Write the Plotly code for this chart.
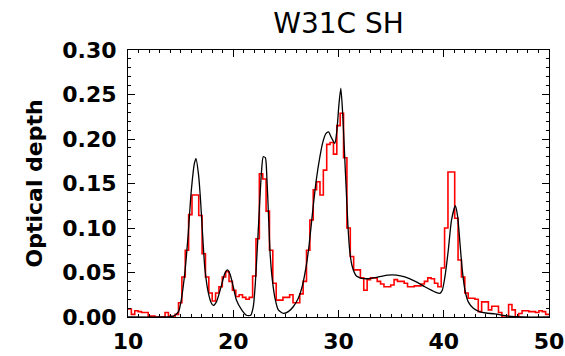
import plotly.graph_objects as go

# ---- data ----
bin_start = 10.0
bin_width = 0.32
observed_tau = [
    0.009, 0.003, 0.007, 0.006, 0.005, 0.005, 0.001, 0.001, 0.000, 0.000,
    0.000, 0.005, 0.001, 0.000, 0.003, 0.016, 0.045, 0.075, 0.115, 0.137,
    0.137, 0.114, 0.071, 0.045, 0.027, 0.018, 0.027, 0.034, 0.045, 0.051,
    0.040, 0.030, 0.023, 0.025, 0.022, 0.020, 0.022, 0.046, 0.088, 0.161,
    0.155, 0.119, 0.075, 0.038, 0.019, 0.019, 0.022, 0.022, 0.025, 0.016,
    0.016, 0.026, 0.040, 0.075, 0.109, 0.143, 0.152, 0.137, 0.165, 0.194,
    0.196, 0.183, 0.215, 0.229, 0.179, 0.100, 0.068, 0.053, 0.053, 0.044,
    0.030, 0.042, 0.044, 0.044, 0.040, 0.037, 0.034, 0.034, 0.036, 0.042,
    0.040, 0.040, 0.038, 0.034, 0.034, 0.035, 0.035, 0.037, 0.040, 0.044,
    0.043, 0.038, 0.034, 0.055, 0.100, 0.163, 0.163, 0.111, 0.064, 0.045,
    0.027, 0.021, 0.021, 0.020, 0.006, 0.017, 0.017, 0.008, 0.012, 0.012,
    0.005, 0.000, 0.000, 0.014, 0.008, 0.000, 0.004, 0.007, 0.007, 0.006,
    0.006, 0.005, 0.007, 0.006, 0.003,
]

model_x = [10.0, 13.5, 14.3, 14.8, 15.1, 15.4, 15.7, 16.0, 16.3, 16.46,
           16.7, 16.9, 17.1, 17.3, 17.6, 17.9, 18.1, 18.4, 18.8, 19.2,
           19.45, 19.7, 20.0, 20.3, 20.8, 21.25, 21.65, 21.9, 22.1, 22.36,
           22.67, 22.85, 23.05, 23.2, 23.34, 23.5, 23.71, 23.97, 24.28, 24.76,
           25.23, 25.7, 26.18, 26.5, 26.9, 27.2, 27.6, 27.9, 28.2, 28.5,
           28.8, 29.05, 29.35, 29.65, 29.85, 30.05, 30.22, 30.4, 30.6, 30.75,
           30.9, 31.06, 31.3, 31.7, 32.2, 32.8, 33.8, 34.7, 35.5, 36.3,
           37.3, 38.2, 39.2, 39.64, 39.86, 40.11, 40.43, 40.74, 41.1, 41.32,
           41.54, 41.76, 42.02, 42.33, 42.81, 43.44, 44.0, 44.87, 46.13, 47.5,
           50.0]
model_tau = [0.0, 0.0, 0.001, 0.006, 0.022, 0.050, 0.090, 0.140, 0.172, 0.178,
             0.160, 0.130, 0.090, 0.055, 0.029, 0.016, 0.013, 0.017, 0.032, 0.049,
             0.053, 0.048, 0.034, 0.019, 0.008, 0.002, 0.002, 0.0115, 0.038, 0.094,
             0.161, 0.180, 0.179, 0.155, 0.117, 0.072, 0.042, 0.021, 0.008, 0.004,
             0.006, 0.0115, 0.021, 0.032, 0.055, 0.080, 0.125, 0.155, 0.178, 0.196,
             0.206, 0.208, 0.201, 0.195, 0.210, 0.240, 0.257, 0.228, 0.177, 0.139,
             0.102, 0.075, 0.057, 0.046, 0.0435, 0.043, 0.045, 0.047, 0.047, 0.045,
             0.040, 0.034, 0.028, 0.0266, 0.030, 0.045, 0.075, 0.109, 0.125, 0.113,
             0.083, 0.053, 0.030, 0.017, 0.0098, 0.0058, 0.0045, 0.0034, 0.001, 0.0,
             0.0]

x_ticks = [10, 20, 30, 40, 50]
y_ticks = [0.00, 0.05, 0.10, 0.15, 0.20, 0.25, 0.30]

title_text = "W31C SH"
y_title = "Optical depth"

# ---- build histogram outline from bins ----
n = len(observed_tau)
edges = [bin_start + bin_width * i for i in range(n + 1)]
hist_y = observed_tau + [observed_tau[-1]]

fig = go.Figure()
fig.add_trace(go.Scatter(x=edges, y=hist_y, mode="lines", line_shape="hv",
                         line=dict(color="#ff0000", width=1.6), showlegend=False))
fig.add_trace(go.Scatter(x=model_x, y=model_tau, mode="lines", line_shape="spline",
                         line=dict(color="black", width=1.3, smoothing=0.6),
                         showlegend=False))

tick_font = dict(family="DejaVu Sans", size=22, color="black", weight="bold")
common = dict(showline=True, linecolor="black", linewidth=1.2, ticks="inside",
              tickcolor="black", tickwidth=1, showgrid=False, zeroline=False,
              automargin=False)

fig.update_layout(
    width=565, height=356,
    margin=dict(l=128, r=16, t=50, b=39),
    paper_bgcolor="white", plot_bgcolor="white",
    title=dict(text=title_text, x=0.5, xref="paper", xanchor="center",
               y=1 - 23 / 356, yref="container", yanchor="middle",
               font=dict(family="DejaVu Sans", size=28, color="black")),
    xaxis=dict(range=[10, 50], tickvals=x_ticks, ticktext=[str(v) for v in x_ticks],
               ticklen=7, minor=dict(ticks="inside", ticklen=3, dtick=1, tick0=10,
                                     tickcolor="black"),
               tickfont=tick_font, ticklabelstandoff=4, **common),
    xaxis2=dict(range=[10, 50], overlaying="x", side="top", matches="x",
                tickvals=x_ticks, showticklabels=False, ticklen=7,
                minor=dict(ticks="inside", ticklen=3, dtick=1, tick0=10,
                           tickcolor="black"), **common),
    yaxis=dict(range=[0, 0.30], tickvals=y_ticks,
               ticktext=[f"{v:.2f}" for v in y_ticks], ticklen=7,
               minor=dict(ticks="inside", ticklen=3, dtick=0.01, tick0=0,
                          tickcolor="black"),
               tickfont=tick_font, ticklabelstandoff=6, **common),
    yaxis2=dict(range=[0, 0.30], overlaying="y", side="right", matches="y",
                tickvals=y_ticks, showticklabels=False, ticklen=7,
                minor=dict(ticks="inside", ticklen=3, dtick=0.01, tick0=0,
                           tickcolor="black"), **common),
    annotations=[dict(text=f"<b>{y_title}</b>", textangle=-90, xref="paper",
                      yref="paper", x=(34 - 128) / 421, y=0.5, xanchor="center",
                      yanchor="middle", showarrow=False,
                      font=dict(family="DejaVu Sans", size=22, color="black"))],
)
# invisible point so the mirrored axes render
fig.add_trace(go.Scatter(x=[10], y=[0], xaxis="x2", yaxis="y2", mode="markers",
                         marker=dict(opacity=0), showlegend=False, hoverinfo="skip"))

fig.write_html("out.html")
